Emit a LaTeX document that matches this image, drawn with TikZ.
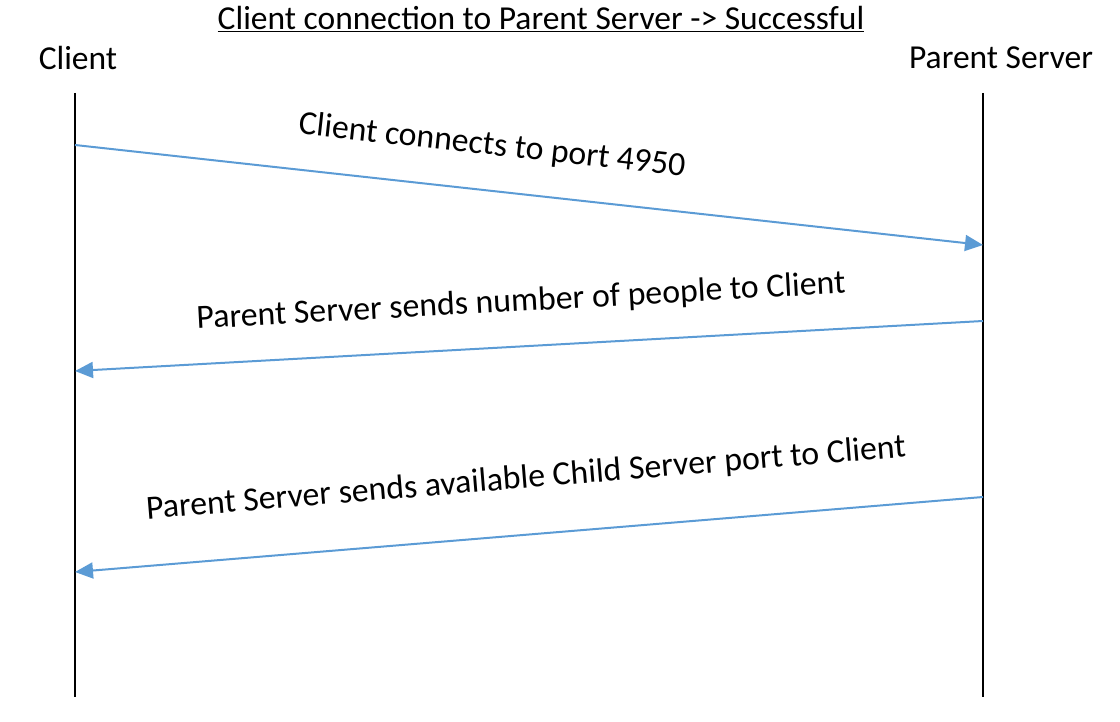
\documentclass[tikz,border=0pt]{standalone}
\usepackage{fontspec}
\setmainfont{Carlito}
\usetikzlibrary{arrows.meta}
\definecolor{msgblue}{HTML}{5B9BD5}
\begin{document}
\begin{tikzpicture}[x=1pt,y=1pt,
  lifeline/.style={line width=2.2pt,black},
  msg/.style={line width=2pt,msgblue,-{Triangle[length=18pt,width=16pt]}},
  lbl/.style={font=\fontsize{33.8}{38}\selectfont,inner sep=0pt},
  head/.style={font=\fontsize{33.5}{38}\selectfont,inner sep=0pt}]
\useasboundingbox (0,0) rectangle (1120,-722);
\node[head] (title) at (541,-19) {\underline{Client connection to Parent Server -> Successful}};
\node[head] (client) at (78,-58) {Client};
\node[head] (server) at (1001,-58) {Parent Server};
\coordinate (cTop) at (75,-93);
\coordinate (cBot) at (75,-697);
\coordinate (sTop) at (983,-93);
\coordinate (sBot) at (983,-697);
\draw[lifeline] (cTop) -- (cBot);
\draw[lifeline] (sTop) -- (sBot);
\coordinate (m1s) at (75,-145);
\coordinate (m1e) at (983,-245);
\coordinate (m2s) at (983,-321);
\coordinate (m2e) at (75,-371);
\coordinate (m3s) at (983,-497);
\coordinate (m3e) at (75,-572);
\draw[msg] (m1s) -- (m1e);
\draw[msg] (m2s) -- (m2e);
\draw[msg] (m3s) -- (m3e);
\node[lbl,rotate=-6.3] (l1) at (492,-146) {Client connects to port 4950};
\node[lbl,rotate=3.15] (l2) at (521,-302) {Parent Server sends number of people to Client};
\node[lbl,rotate=4.7] (l3) at (526,-479) {Parent Server sends available Child Server port to Client};
\end{tikzpicture}
\end{document}
